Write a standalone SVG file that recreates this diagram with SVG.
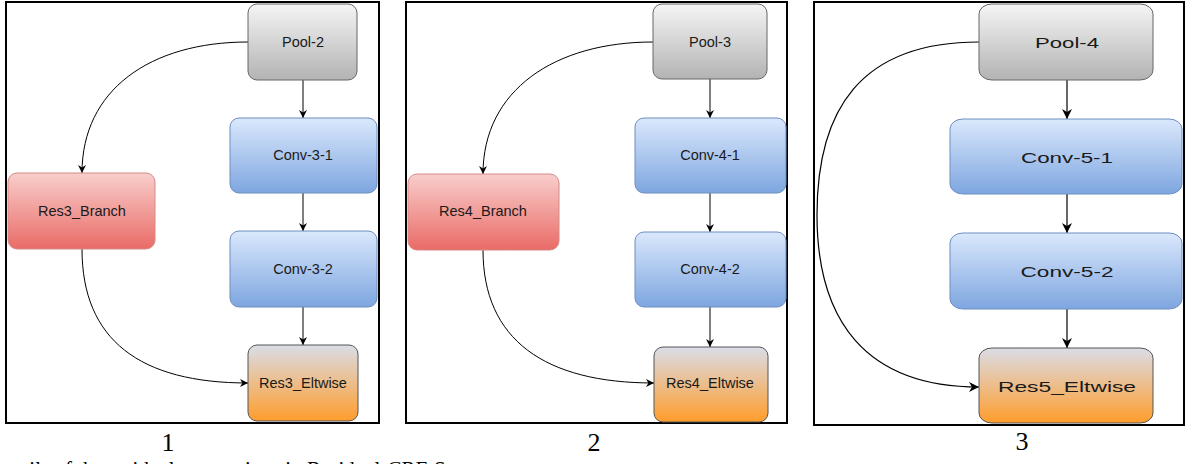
<svg xmlns="http://www.w3.org/2000/svg" width="1186" height="464" viewBox="0 0 1186 464">
<defs>
<linearGradient id="gGrey" x1="0" y1="0" x2="0" y2="1"><stop offset="0" stop-color="#f5f5f5"/><stop offset="1" stop-color="#b3b3b3"/></linearGradient>
<linearGradient id="gBlue" x1="0" y1="0" x2="0" y2="1"><stop offset="0" stop-color="#dae8fc"/><stop offset="1" stop-color="#7ea6e0"/></linearGradient>
<linearGradient id="gRed" x1="0" y1="0" x2="0" y2="1"><stop offset="0" stop-color="#f8cecc"/><stop offset="1" stop-color="#ea6b66"/></linearGradient>
<linearGradient id="gOrange" x1="0" y1="0" x2="0" y2="1"><stop offset="0" stop-color="#dadde8"/><stop offset="1" stop-color="#ff9d2c"/></linearGradient>
<marker id="arr" viewBox="0 0 10 10" refX="10" refY="5" markerWidth="8" markerHeight="8" markerUnits="userSpaceOnUse" orient="auto"><path d="M0,0 L10,5 L0,10 L3,5 z" fill="#000"/></marker>
<marker id="arrL" viewBox="0 0 10 10" refX="10" refY="5" markerWidth="10" markerHeight="10" markerUnits="userSpaceOnUse" orient="auto"><path d="M0,0 L10,5 L0,10 L3,5 z" fill="#000"/></marker>
</defs>
<style>
.panel{fill:#fff;stroke:#000;stroke-width:2}
.grey{fill:url(#gGrey);stroke:#666;stroke-width:1}
.blue{fill:url(#gBlue);stroke:#6c8ebf;stroke-width:1}
.red{fill:url(#gRed);stroke:#d48a88;stroke-width:1}
.orange{fill:url(#gOrange);stroke:#555;stroke-width:1}
.lbl{font-family:"Liberation Sans",Arial,sans-serif;font-size:14.5px;fill:#1a1a1a;text-anchor:middle;dominant-baseline:central}
.lbl3{font-family:"Liberation Sans",Arial,sans-serif;font-size:15px;fill:#1a1a1a;text-anchor:middle;dominant-baseline:central}
.cap{font-family:"Liberation Serif","Times New Roman",serif;font-size:26px;fill:#000;text-anchor:middle}
.note{font-family:"Liberation Serif","Times New Roman",serif;font-size:21px;fill:#000}
.c{fill:none;stroke:#000;stroke-width:1;marker-end:url(#arr)}
.c3{fill:none;stroke:#000;stroke-width:1.2;marker-end:url(#arrL)}
</style>

<g id="panels">
<rect class="panel" x="6" y="2" width="373" height="421"/>
<rect class="panel" x="406" y="2" width="381" height="421"/>
<rect class="panel" x="814" y="2" width="370" height="423"/>
</g>

<g id="connectors">
<path class="c" d="M303,80 L303,118"/>
<path class="c" d="M303,193 L303,231"/>
<path class="c" d="M303,307 L303,345"/>
<path class="c" d="M248,42 C150,42 82,90 82,173"/>
<path class="c" d="M82,249 C82,340 140,383 248,383"/>

<path class="c" d="M710,79 L710,118"/>
<path class="c" d="M710,193 L710,232"/>
<path class="c" d="M710,307 L710,347"/>
<path class="c" d="M653,42 C555,42 483,90 483,174"/>
<path class="c" d="M483,250 C483,340 545,383 654,383"/>

<path class="c3" d="M1067,80 L1067,119"/>
<path class="c3" d="M1067,194 L1067,233"/>
<path class="c3" d="M1067,309 L1067,348"/>
<path class="c3" d="M979,42 C860,42 817,110 817,215 C817,320 865,387 979,387"/>
</g>

<g id="pool2"><rect class="grey" x="248" y="4" width="109" height="76" rx="9"/><text class="lbl" x="303" y="42">Pool-2</text></g>
<g id="conv31"><rect class="blue" x="230" y="118" width="147" height="75" rx="9"/><text class="lbl" x="303" y="155">Conv-3-1</text></g>
<g id="res3branch"><rect class="red" x="8" y="173" width="147" height="76" rx="9"/><text class="lbl" x="82" y="211">Res3_Branch</text></g>
<g id="conv32"><rect class="blue" x="230" y="231" width="147" height="76" rx="9"/><text class="lbl" x="303" y="269">Conv-3-2</text></g>
<g id="res3eltwise"><rect class="orange" x="248" y="345" width="110" height="76" rx="9"/><text class="lbl" x="303" y="383">Res3_Eltwise</text></g>

<g id="pool3"><rect class="grey" x="653" y="4" width="114" height="75" rx="9"/><text class="lbl" x="710" y="42">Pool-3</text></g>
<g id="conv41"><rect class="blue" x="635" y="118" width="151" height="75" rx="9"/><text class="lbl" x="710" y="155">Conv-4-1</text></g>
<g id="res4branch"><rect class="red" x="408" y="174" width="151" height="76" rx="9"/><text class="lbl" x="483" y="211">Res4_Branch</text></g>
<g id="conv42"><rect class="blue" x="635" y="232" width="151" height="75" rx="9"/><text class="lbl" x="710" y="269">Conv-4-2</text></g>
<g id="res4eltwise"><rect class="orange" x="654" y="347" width="114" height="75" rx="9"/><text class="lbl" x="710" y="383">Res4_Eltwise</text></g>

<g id="pool4"><rect class="grey" x="979" y="4" width="174" height="76" rx="13" ry="10"/><text class="lbl3" x="1067" y="42" textLength="64" lengthAdjust="spacingAndGlyphs">Pool-4</text></g>
<g id="conv51"><rect class="blue" x="950" y="119" width="232" height="75" rx="13" ry="10"/><text class="lbl3" x="1067" y="157" textLength="92" lengthAdjust="spacingAndGlyphs">Conv-5-1</text></g>
<g id="conv52"><rect class="blue" x="950" y="233" width="232" height="76" rx="13" ry="10"/><text class="lbl3" x="1067" y="271" textLength="93" lengthAdjust="spacingAndGlyphs">Conv-5-2</text></g>
<g id="res5eltwise"><rect class="orange" x="979" y="348" width="174" height="75" rx="13" ry="10"/><text class="lbl3" x="1067" y="386" textLength="138" lengthAdjust="spacingAndGlyphs">Res5_Eltwise</text></g>

<g id="captions">
<text class="cap" x="168" y="451">1</text>
<text class="cap" x="594" y="451">2</text>
<text class="cap" x="1022" y="450">3</text>
<text class="note" x="20" y="476">ails of the residual connections in Residual-CRF-S</text>
</g>
</svg>
